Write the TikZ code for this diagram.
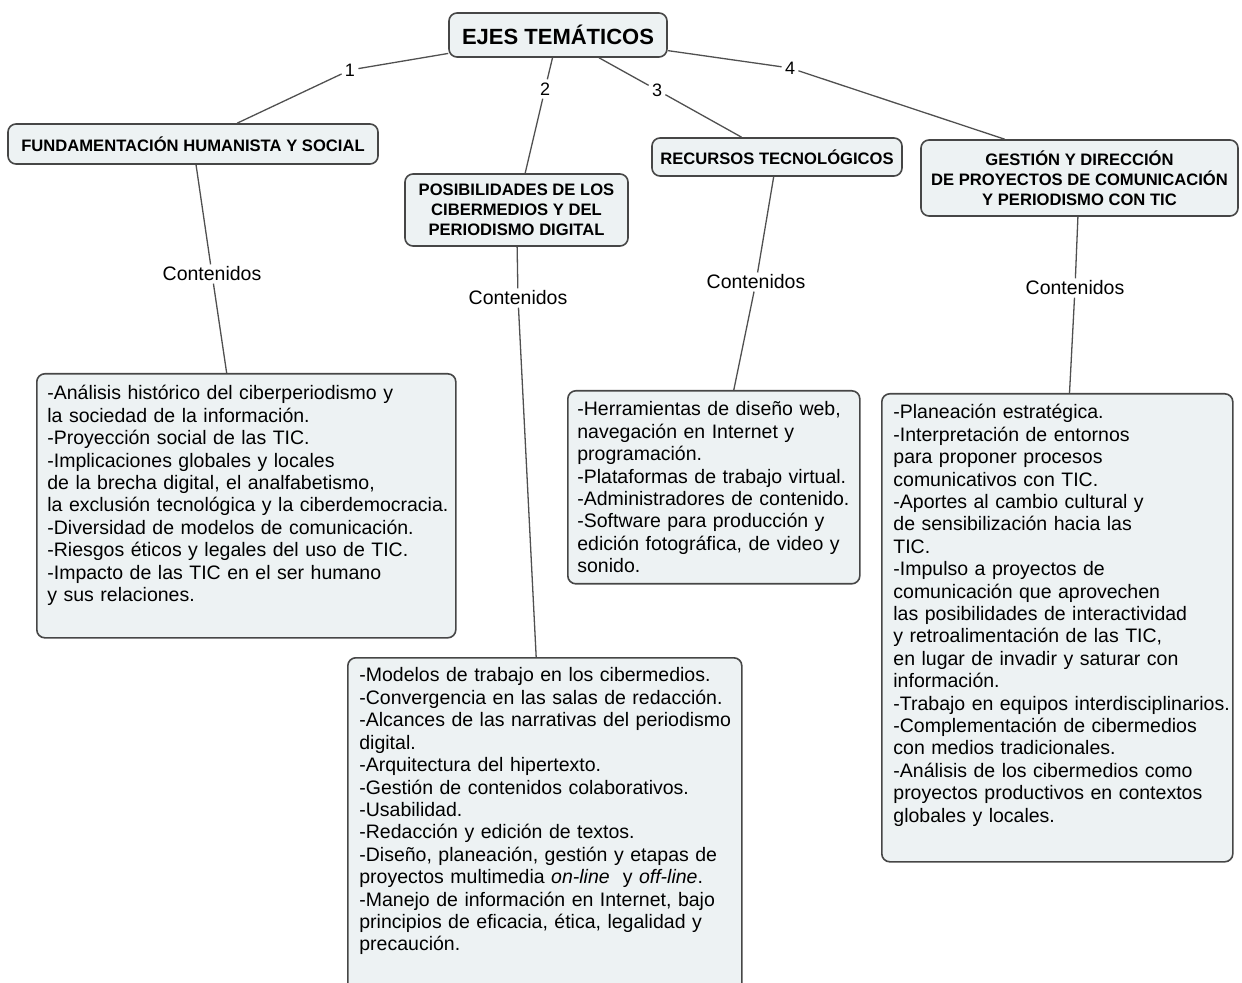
\documentclass[tikz,border=0pt]{standalone}
\usepackage{fontspec}
\setmainfont{Liberation Sans}
\usetikzlibrary{calc}
\definecolor{boxfill}{RGB}{237,242,243}
\definecolor{boxline}{RGB}{70,70,70}
\definecolor{conn}{RGB}{80,80,80}
\begin{document}
\begin{tikzpicture}[x=0.5pt,y=-0.5pt,
  hbox/.style={draw=boxline, line width=0.8pt, fill=boxfill, rounded corners=4pt, align=center,
    font=\fontsize{8.3}{10}\selectfont\bfseries, inner sep=0pt},
  cbox/.style={draw=boxline, line width=0.8pt, fill=boxfill, rounded corners=4pt, anchor=north west, inner sep=0pt},
  ctext/.style={anchor=base west, align=left, inner sep=0pt, font=\fontsize{9.75}{11.2}\selectfont},
  num/.style={font=\fontsize{9}{10}\selectfont, inner sep=1.5pt},
  cont/.style={font=\fontsize{9.75}{11}\selectfont, inner sep=1pt},
  link/.style={draw=conn, line width=0.65pt}]
\useasboundingbox (0,0) rectangle (1242,983);

% header boxes
\node[hbox, minimum width=109pt, minimum height=22pt, font=\fontsize{11}{13}\selectfont\bfseries] (root) at (558,35) {EJES TEMÁTICOS};
\node[hbox, minimum width=185pt, minimum height=20pt] (fund) at (193,144) {FUNDAMENTACIÓN HUMANISTA Y SOCIAL};
\node[hbox, minimum width=111.5pt, minimum height=36pt] (posib) at (516.5,210) {POSIBILIDADES DE LOS\\CIBERMEDIOS Y DEL\\PERIODISMO DIGITAL};
\node[hbox, minimum width=125pt, minimum height=19pt] (rec) at (777,157) {RECURSOS TECNOLÓGICOS};
\node[hbox, minimum width=158.5pt, minimum height=38pt] (gest) at (1079.5,178) {GESTIÓN Y DIRECCIÓN\\DE PROYECTOS DE COMUNICACIÓN\\Y PERIODISMO CON TIC};

% content boxes
\node[cbox, minimum width=209.5pt, minimum height=132pt] (c1) at (36,373) {};
\node[cbox, minimum width=146pt, minimum height=96.5pt] (c3) at (567,390) {};
\node[cbox, minimum width=175.5pt, minimum height=234pt] (c4) at (881,393) {};
\node[cbox, minimum width=197pt, minimum height=170pt] (c2) at (347,657) {};

\node[ctext, text width=204pt] (t1) at (47,400) {-Análisis histórico del ciberperiodismo y\\
la sociedad de la información.\\
-Proyección social de las TIC.\\
-Implicaciones globales y locales\\
de la brecha digital, el analfabetismo,\\
la exclusión tecnológica y la ciberdemocracia.\\
-Diversidad de modelos de comunicación.\\
-Riesgos éticos y legales del uso de TIC.\\
-Impacto de las TIC en el ser humano\\
y sus relaciones.};

\node[ctext, text width=141pt] (t3) at (577,416) {-Herramientas de diseño web,\\
navegación en Internet y\\
programación.\\
-Plataformas de trabajo virtual.\\
-Administradores de contenido.\\
-Software para producción y\\
edición fotográfica, de video y\\
sonido.};

\node[ctext, text width=170pt] (t4) at (893,419) {-Planeación estratégica.\\
-Interpretación de entornos\\
para proponer procesos\\
comunicativos con TIC.\\
-Aportes al cambio cultural y\\
de sensibilización hacia las\\
TIC.\\
-Impulso a proyectos de\\
comunicación que aprovechen\\
las posibilidades de interactividad\\
y retroalimentación de las TIC,\\
en lugar de invadir y saturar con\\
información.\\
-Trabajo en equipos interdisciplinarios.\\
-Complementación de cibermedios\\
con medios tradicionales.\\
-Análisis de los cibermedios como\\
proyectos productivos en contextos\\
globales y locales.};

\node[ctext, text width=192pt] (t2) at (359,682) {-Modelos de trabajo en los cibermedios.\\
-Convergencia en las salas de redacción.\\
-Alcances de las narrativas del periodismo\\
digital.\\
-Arquitectura del hipertexto.\\
-Gestión de contenidos colaborativos.\\
-Usabilidad.\\
-Redacción y edición de textos.\\
-Diseño, planeación, gestión y etapas de\\
proyectos multimedia \textit{on-line}\ \ y \textit{off-line}.\\
-Manejo de información en Internet, bajo\\
principios de eficacia, ética, legalidad y\\
precaución.};

% link labels
\node[num] (n1) at (350,70) {1};
\node[num] (n2) at (545,89) {2};
\node[num] (n3) at (657,90) {3};
\node[num] (n4) at (790,68) {4};

\node[cont] (k1) at (212,274) {Contenidos};
\node[cont] (k2) at (518,298) {Contenidos};
\node[cont] (k3) at (756,282) {Contenidos};
\node[cont] (k4) at (1075,288) {Contenidos};

% connectors
\draw[link] (root) -- (n1) -- (fund);
\draw[link] (root) -- (n2) -- (posib);
\draw[link] (root) -- (n3) -- (rec);
\draw[link] (root) -- (n4) -- ($(gest.north west)!0.265!(gest.north east)$);

\draw[link] (fund) -- (k1) -- (c1);
\draw[link] (posib) -- (k2) -- (c2);
\draw[link] (rec) -- (k3) -- (c3);
\draw[link] (gest) -- (k4) -- (c4);
\end{tikzpicture}
\end{document}
